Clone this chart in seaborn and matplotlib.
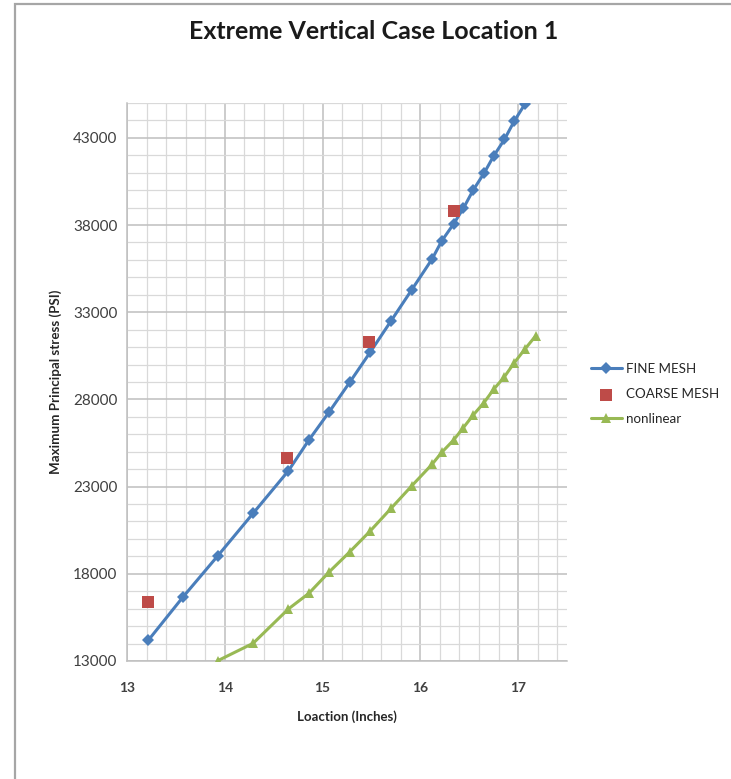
import matplotlib
matplotlib.use("Agg")
import matplotlib.pyplot as plt
import seaborn as sns
import pandas as pd
from matplotlib.ticker import MultipleLocator
from matplotlib.patches import Rectangle

# Fine mesh results
fine_x = [13.22, 13.57, 13.93, 14.29, 14.65, 14.86, 15.07, 15.28, 15.49, 15.70,
          15.91, 16.12, 16.22, 16.34, 16.44, 16.54, 16.65, 16.75, 16.86, 16.96, 17.07]
fine_y = [14200, 16650, 19040, 21470, 23900, 25670, 27300, 29000, 30730, 32500,
          34270, 36050, 37100, 38060, 38960, 40000, 40960, 41960, 42910, 43960, 44940]

# Coarse mesh results
coarse_x = [13.21, 14.64, 15.48, 16.34]
coarse_y = [16400, 24620, 31310, 38800]

# Nonlinear analysis results
nonlin_x = [13.93, 14.29, 14.65, 14.86, 15.07, 15.28, 15.49, 15.70, 15.91, 16.12,
            16.22, 16.34, 16.44, 16.54, 16.65, 16.75, 16.86, 16.96, 17.07, 17.18]
nonlin_y = [13020, 14015, 15980, 16880, 18120, 19270, 20470, 21750, 23030, 24280,
            24970, 25670, 26380, 27100, 27810, 28580, 29300, 30100, 30890, 31650]

x_ticks = [13, 14, 15, 16, 17]
y_ticks = [13000, 18000, 23000, 28000, 33000, 38000, 43000]

sns.set_theme(style="white")
plt.rcParams["font.family"] = ["Lato", "DejaVu Sans"]

fig = plt.figure(figsize=(7.31, 7.79), dpi=100)
ax = fig.add_axes([0.1737, 0.1515, 0.602, 0.7163])

# outer chart frame
fig.patches.append(Rectangle((15 / 731, -0.01), 1.1, 1 - 4 / 779 + 0.01,
                             transform=fig.transFigure, fill=False,
                             edgecolor="#a6a6a6", linewidth=1.6, zorder=0))

fine = pd.DataFrame({"x": fine_x, "y": fine_y})
coarse = pd.DataFrame({"x": coarse_x, "y": coarse_y})
nonlin = pd.DataFrame({"x": nonlin_x, "y": nonlin_y})

blue = "#4a7ebb"
red = "#be4b48"
green = "#98b954"

sns.lineplot(data=fine, x="x", y="y", ax=ax, color=blue, linewidth=2.2,
             marker="D", markersize=6, markeredgewidth=0, label="FINE MESH",
             sort=False, zorder=3)
sns.scatterplot(data=coarse, x="x", y="y", ax=ax, color=red, marker="s", s=70,
                linewidth=0, label="COARSE MESH", zorder=4)
sns.lineplot(data=nonlin, x="x", y="y", ax=ax, color=green, linewidth=2.2,
             marker="^", markersize=7, markeredgewidth=0, label="nonlinear",
             sort=False, zorder=3)

ax.set_xlim(13, 17.5)
ax.set_ylim(13000, 45000)
ax.set_xticks(x_ticks)
ax.set_yticks(y_ticks)
ax.xaxis.set_minor_locator(MultipleLocator(0.2))
ax.yaxis.set_minor_locator(MultipleLocator(1000))
ax.grid(which="minor", color="#d9d9d9", linewidth=0.9)
ax.grid(which="major", color="#bfbfbf", linewidth=1.1)
ax.set_axisbelow(True)

for side in ["top", "right"]:
    ax.spines[side].set_visible(False)
for side in ["left", "bottom"]:
    ax.spines[side].set_color("#bfbfbf")
    ax.spines[side].set_linewidth(1.1)

ax.tick_params(axis="both", which="major", length=5, width=1, color="#bfbfbf",
               direction="out", labelcolor="#404040")
ax.tick_params(axis="both", which="minor", length=0)
ax.tick_params(axis="x", which="major", pad=10, labelsize=10)
ax.tick_params(axis="y", which="major", pad=2, labelsize=11)
for lbl in ax.get_xticklabels():
    lbl.set_fontweight("bold")

ax.set_xlabel("Loaction (Inches)", fontsize=9.5, fontweight="bold", color="#262626",
              labelpad=12)
ax.set_ylabel("Maximum Principal stress (PSI)", fontsize=9.6, fontweight="bold",
              color="#262626", labelpad=8)

fig.text(0.511, 0.96, "Extreme Vertical Case Location 1", ha="center", va="center",
         fontsize=18, fontweight="bold", color="#1a1a1a")

leg = ax.legend(loc="upper left", bbox_to_anchor=(0.808, 0.534),
                bbox_transform=fig.transFigure, frameon=False, fontsize=9.6,
                handlelength=2.35, handletextpad=0.3, labelspacing=0.98,
                borderaxespad=0, borderpad=0)
for t in leg.get_texts():
    t.set_color("#262626")

fig.savefig("out.png", dpi=100)
